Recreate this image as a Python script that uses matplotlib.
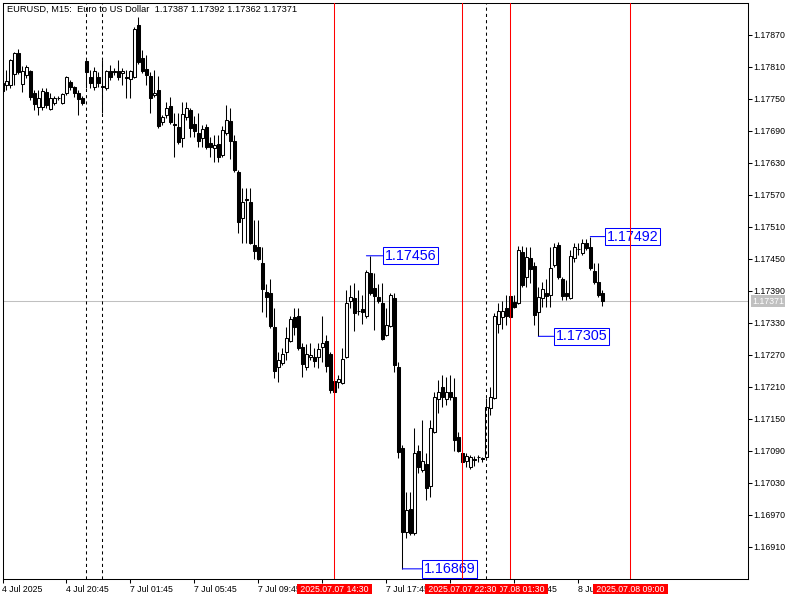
import numpy as np
import matplotlib.pyplot as plt

# EURUSD M15, 4 Jul 16:45 .. 8 Jul 07:15 (one entry per bar)
opens = [
    1.17780, 1.17776, 1.17776, 1.17797, 1.17836, 1.17778, 1.17795, 1.17802, 1.17761, 1.17735,
    1.17735, 1.17763, 1.17731, 1.17742, 1.17752, 1.17742, 1.17761, 1.17782, 1.17772, 1.17761,
    1.17752, 1.17821, 1.17791, 1.17772, 1.17791, 1.17774, 1.17771, 1.17802, 1.17802, 1.17802,
    1.17799, 1.17791, 1.17787, 1.17791, 1.17889, 1.17827, 1.17806, 1.17793, 1.17757, 1.17767,
    1.17707, 1.17720, 1.17737, 1.17703, 1.17698, 1.17677, 1.17716, 1.17729, 1.17703, 1.17686,
    1.17677, 1.17698, 1.17668, 1.17658, 1.17666, 1.17645, 1.17686, 1.17709, 1.17671, 1.17613,
    1.17527, 1.17563, 1.17557, 1.17476, 1.17473, 1.17443, 1.17388, 1.17386, 1.17323, 1.17248,
    1.17255, 1.17276, 1.17296, 1.17341, 1.17343, 1.17285, 1.17248, 1.17266, 1.17266, 1.17266,
    1.17285, 1.17296, 1.17272, 1.17221, 1.17219, 1.17218, 1.17266, 1.17371, 1.17377, 1.17353,
    1.17356, 1.17343, 1.17424, 1.17396, 1.17379, 1.17368, 1.17308, 1.17324, 1.17377, 1.17248,
    1.17096, 1.16938, 1.16981, 1.16936, 1.17090, 1.17054, 1.17066, 1.17024, 1.17126, 1.17188,
    1.17210, 1.17188, 1.17201, 1.17191, 1.17116, 1.17086, 1.17071, 1.17060, 1.17075, 1.17079,
    1.17075, 1.17079, 1.17171, 1.17189, 1.17328, 1.17341, 1.17358, 1.17381, 1.17369, 1.17368,
    1.17463, 1.17416, 1.17452, 1.17437, 1.17351, 1.17377, 1.17386, 1.17383, 1.17439, 1.17476,
    1.17413, 1.17386, 1.17377, 1.17452, 1.17469, 1.17461, 1.17480, 1.17473, 1.17428, 1.17407,
    1.17387,
]
highs = [
    1.17786, 1.17804, 1.17825, 1.17838, 1.17844, 1.17812, 1.17814, 1.17804, 1.17767, 1.17767,
    1.17771, 1.17771, 1.17761, 1.17756, 1.17756, 1.17761, 1.17793, 1.17786, 1.17774, 1.17767,
    1.17756, 1.17823, 1.17804, 1.17810, 1.17801, 1.17823, 1.17804, 1.17814, 1.17808, 1.17823,
    1.17808, 1.17804, 1.17804, 1.17885, 1.17904, 1.17842, 1.17833, 1.17801, 1.17804, 1.17793,
    1.17720, 1.17744, 1.17754, 1.17724, 1.17724, 1.17744, 1.17744, 1.17733, 1.17718, 1.17724,
    1.17701, 1.17703, 1.17679, 1.17683, 1.17683, 1.17699, 1.17739, 1.17733, 1.17683, 1.17617,
    1.17583, 1.17583, 1.17583, 1.17523, 1.17523, 1.17473, 1.17403, 1.17413, 1.17358, 1.17276,
    1.17283, 1.17323, 1.17343, 1.17358, 1.17358, 1.17293, 1.17291, 1.17293, 1.17283, 1.17293,
    1.17343, 1.17308, 1.17276, 1.17227, 1.17233, 1.17283, 1.17392, 1.17401, 1.17405, 1.17392,
    1.17383, 1.17429, 1.17456, 1.17424, 1.17403, 1.17405, 1.17358, 1.17386, 1.17386, 1.17257,
    1.17101, 1.17013, 1.17013, 1.17133, 1.17101, 1.17148, 1.17086, 1.17148, 1.17201, 1.17223,
    1.17233, 1.17229, 1.17233, 1.17227, 1.17126, 1.17092, 1.17086, 1.17083, 1.17081, 1.17083,
    1.17079, 1.17189, 1.17210, 1.17349, 1.17368, 1.17371, 1.17383, 1.17383, 1.17383, 1.17474,
    1.17474, 1.17473, 1.17473, 1.17444, 1.17398, 1.17407, 1.17413, 1.17473, 1.17480, 1.17482,
    1.17416, 1.17411, 1.17467, 1.17480, 1.17480, 1.17487, 1.17487, 1.17492, 1.17443, 1.17443,
    1.17392,
]
lows = [
    1.17761, 1.17767, 1.17771, 1.17776, 1.17797, 1.17763, 1.17789, 1.17748, 1.17729, 1.17720,
    1.17729, 1.17733, 1.17729, 1.17739, 1.17748, 1.17741, 1.17757, 1.17767, 1.17754, 1.17720,
    1.17739, 1.17771, 1.17771, 1.17767, 1.17772, 1.17724, 1.17767, 1.17786, 1.17795, 1.17786,
    1.17776, 1.17752, 1.17752, 1.17789, 1.17816, 1.17799, 1.17776, 1.17724, 1.17754, 1.17696,
    1.17701, 1.17714, 1.17703, 1.17641, 1.17666, 1.17660, 1.17711, 1.17679, 1.17679, 1.17660,
    1.17660, 1.17656, 1.17641, 1.17632, 1.17632, 1.17641, 1.17683, 1.17638, 1.17613, 1.17499,
    1.17480, 1.17480, 1.17478, 1.17450, 1.17448, 1.17351, 1.17341, 1.17321, 1.17227, 1.17219,
    1.17251, 1.17261, 1.17294, 1.17308, 1.17279, 1.17229, 1.17242, 1.17261, 1.17248, 1.17246,
    1.17257, 1.17238, 1.17199, 1.17195, 1.17208, 1.17216, 1.17264, 1.17358, 1.17315, 1.17345,
    1.17328, 1.17339, 1.17383, 1.17317, 1.17368, 1.17298, 1.17306, 1.17322, 1.17238, 1.17077,
    1.16869, 1.16927, 1.16933, 1.16933, 1.17049, 1.17051, 1.16998, 1.17004, 1.17124, 1.17161,
    1.17173, 1.17176, 1.17186, 1.17090, 1.17088, 1.17068, 1.17060, 1.17056, 1.17062, 1.17069,
    1.17069, 1.17075, 1.17158, 1.17188, 1.17311, 1.17319, 1.17326, 1.17339, 1.17358, 1.17366,
    1.17398, 1.17398, 1.17405, 1.17326, 1.17305, 1.17360, 1.17360, 1.17360, 1.17435, 1.17413,
    1.17373, 1.17373, 1.17375, 1.17444, 1.17458, 1.17458, 1.17467, 1.17429, 1.17403, 1.17379,
    1.17362,
]
closes = [
    1.17765, 1.17784, 1.17823, 1.17836, 1.17801, 1.17802, 1.17810, 1.17754, 1.17741, 1.17752,
    1.17765, 1.17739, 1.17752, 1.17752, 1.17751, 1.17759, 1.17791, 1.17772, 1.17761, 1.17750,
    1.17742, 1.17801, 1.17780, 1.17802, 1.17780, 1.17772, 1.17802, 1.17791, 1.17801, 1.17791,
    1.17802, 1.17790, 1.17802, 1.17881, 1.17819, 1.17802, 1.17795, 1.17752, 1.17761, 1.17699,
    1.17716, 1.17733, 1.17707, 1.17702, 1.17669, 1.17722, 1.17733, 1.17696, 1.17690, 1.17671,
    1.17694, 1.17660, 1.17660, 1.17664, 1.17641, 1.17692, 1.17711, 1.17671, 1.17617, 1.17519,
    1.17557, 1.17561, 1.17480, 1.17465, 1.17450, 1.17394, 1.17379, 1.17324, 1.17240, 1.17261,
    1.17272, 1.17302, 1.17338, 1.17323, 1.17283, 1.17253, 1.17272, 1.17270, 1.17259, 1.17281,
    1.17293, 1.17249, 1.17204, 1.17201, 1.17225, 1.17263, 1.17368, 1.17379, 1.17349, 1.17352,
    1.17351, 1.17426, 1.17386, 1.17381, 1.17371, 1.17300, 1.17326, 1.17383, 1.17251, 1.17088,
    1.16938, 1.16979, 1.16936, 1.17086, 1.17060, 1.17071, 1.17021, 1.17133, 1.17191, 1.17201,
    1.17191, 1.17201, 1.17191, 1.17111, 1.17090, 1.17069, 1.17081, 1.17079, 1.17074, 1.17078,
    1.17076, 1.17173, 1.17191, 1.17343, 1.17353, 1.17353, 1.17343, 1.17341, 1.17360, 1.17467,
    1.17401, 1.17454, 1.17431, 1.17345, 1.17379, 1.17394, 1.17381, 1.17433, 1.17473, 1.17416,
    1.17381, 1.17381, 1.17456, 1.17473, 1.17468, 1.17480, 1.17471, 1.17433, 1.17407, 1.17383,
    1.17371,
]

# time scale labels (every 16 bars)
label_bars = [0, 16, 32, 48, 64, 80, 96, 112, 128, 144]
time_labels = ["4 Jul 2025", "4 Jul 20:45", "7 Jul 01:45", "7 Jul 05:45", "7 Jul 09:45",
               "7 Jul 13:45", "7 Jul 17:45", "7 Jul 21:45", "8 Jul 01:45", "8 Jul 05:45"]

# vertical line objects
vline_bars = [83, 115, 127, 157]
vline_times = ["2025.07.07 14:30", "2025.07.07 22:30", "2025.07.08 01:30", "2025.07.08 09:00"]
sep_bars = [21, 25, 121]          # dashed separators

# price labels (bar, price, offset in px)
mark_bars = [91, 100, 134, 147]
mark_prices = [1.17456, 1.16869, 1.17305, 1.17492]
mark_dx = [18.4, 21.4, 17.4, 16.4]

bid = closes[-1]

plt.rcParams['font.family'] = ['Liberation Sans', 'DejaVu Sans']
small = 6.3

o = np.array(opens)
h = np.array(highs)
l = np.array(lows)
c = np.array(closes)
x = np.arange(len(o))

fig = plt.figure(figsize=(8, 6), dpi=100, facecolor="white")
ax = fig.add_axes([2.5 / 800, 21.5 / 600, 745 / 800, 576 / 600])
ax.set_facecolor("white")

ax.axhline(bid, color="#c0c0c0", lw=0.75, zorder=1)

# candles
ax.vlines(x, l, h, color="black", lw=0.75, zorder=3)
up = c > o
dn = c < o
fl = c == o
ax.bar(x[up], c[up] - o[up], bottom=o[up], width=0.62, color="white",
       edgecolor="black", linewidth=0.75, zorder=4)
ax.bar(x[dn], o[dn] - c[dn], bottom=c[dn], width=0.62, color="black",
       edgecolor="black", linewidth=0.75, zorder=4)
if fl.any():
    ax.hlines(c[fl], x[fl] - 0.35, x[fl] + 0.35, color="black", lw=0.75, zorder=4)

# separators and vertical lines
for b in sep_bars:
    ax.axvline(b, color="black", lw=0.75, ls=(0, (3, 3)), zorder=5)
for b in vline_bars:
    ax.axvline(b, color="red", lw=0.75, zorder=7)

# price labels
for b, p, dx in zip(mark_bars, mark_prices, mark_dx):
    ax.annotate(f"{p:.5f}", xy=(b, p), xytext=(dx, 0), textcoords="offset pixels",
                ha="left", va="center", color="blue", fontsize=10.3,
                bbox=dict(boxstyle="square,pad=0.12", fc="white", ec="blue", lw=0.75),
                arrowprops=dict(arrowstyle="-", color="blue", lw=0.75, shrinkA=0, shrinkB=0),
                zorder=6, annotation_clip=False)

ax.set_xlim(0.05, 186.3)
ax.set_ylim(1.168509, 1.179309)

# right price scale
yt = np.round(np.arange(1.16910, 1.17871, 0.0006), 5)
ax.yaxis.tick_right()
ax.set_yticks(yt)
ax.set_yticklabels([f"{v:.5f}" for v in yt])
ax.tick_params(axis="y", length=3, width=0.75, pad=1.5, labelsize=small)

ax.set_xticks(label_bars)
ax.set_xticklabels(time_labels)
ax.tick_params(axis="x", length=3, width=0.75, pad=1.5, labelsize=small)
for t in ax.get_xticklabels():
    t.set_ha("left")

for s in ax.spines.values():
    s.set_color("black")
    s.set_linewidth(0.75)

# time labels of the vertical lines
for b, t in reversed(list(zip(vline_bars, vline_times))):
    ax.annotate(f" {t} ", xy=(b, 0), xycoords=("data", "axes fraction"),
                xytext=(0, -10.5), textcoords="offset pixels", ha="center", va="center",
                color="white", fontsize=small,
                bbox=dict(boxstyle="square,pad=0.1", fc="red", ec="none"),
                zorder=10, annotation_clip=False)

# bid label on the price scale
ax.annotate(f"{bid:.5f}", xy=(1, bid), xycoords=("axes fraction", "data"),
            xytext=(4.5, 0), textcoords="offset pixels", ha="left", va="center",
            color="white", fontsize=small,
            bbox=dict(boxstyle="square,pad=0.15", fc="#c0c0c0", ec="none"),
            zorder=10, annotation_clip=False)

header = (f"EURUSD, M15:  Euro to US Dollar  {opens[-1]:.5f} {highs[-1]:.5f} "
          f"{lows[-1]:.5f} {closes[-1]:.5f}")
fig.text(7 / 800, 1 - 9.5 / 600, header, fontsize=6.7, ha="left", va="center")

fig.savefig("out.png", dpi=100, facecolor="white")
